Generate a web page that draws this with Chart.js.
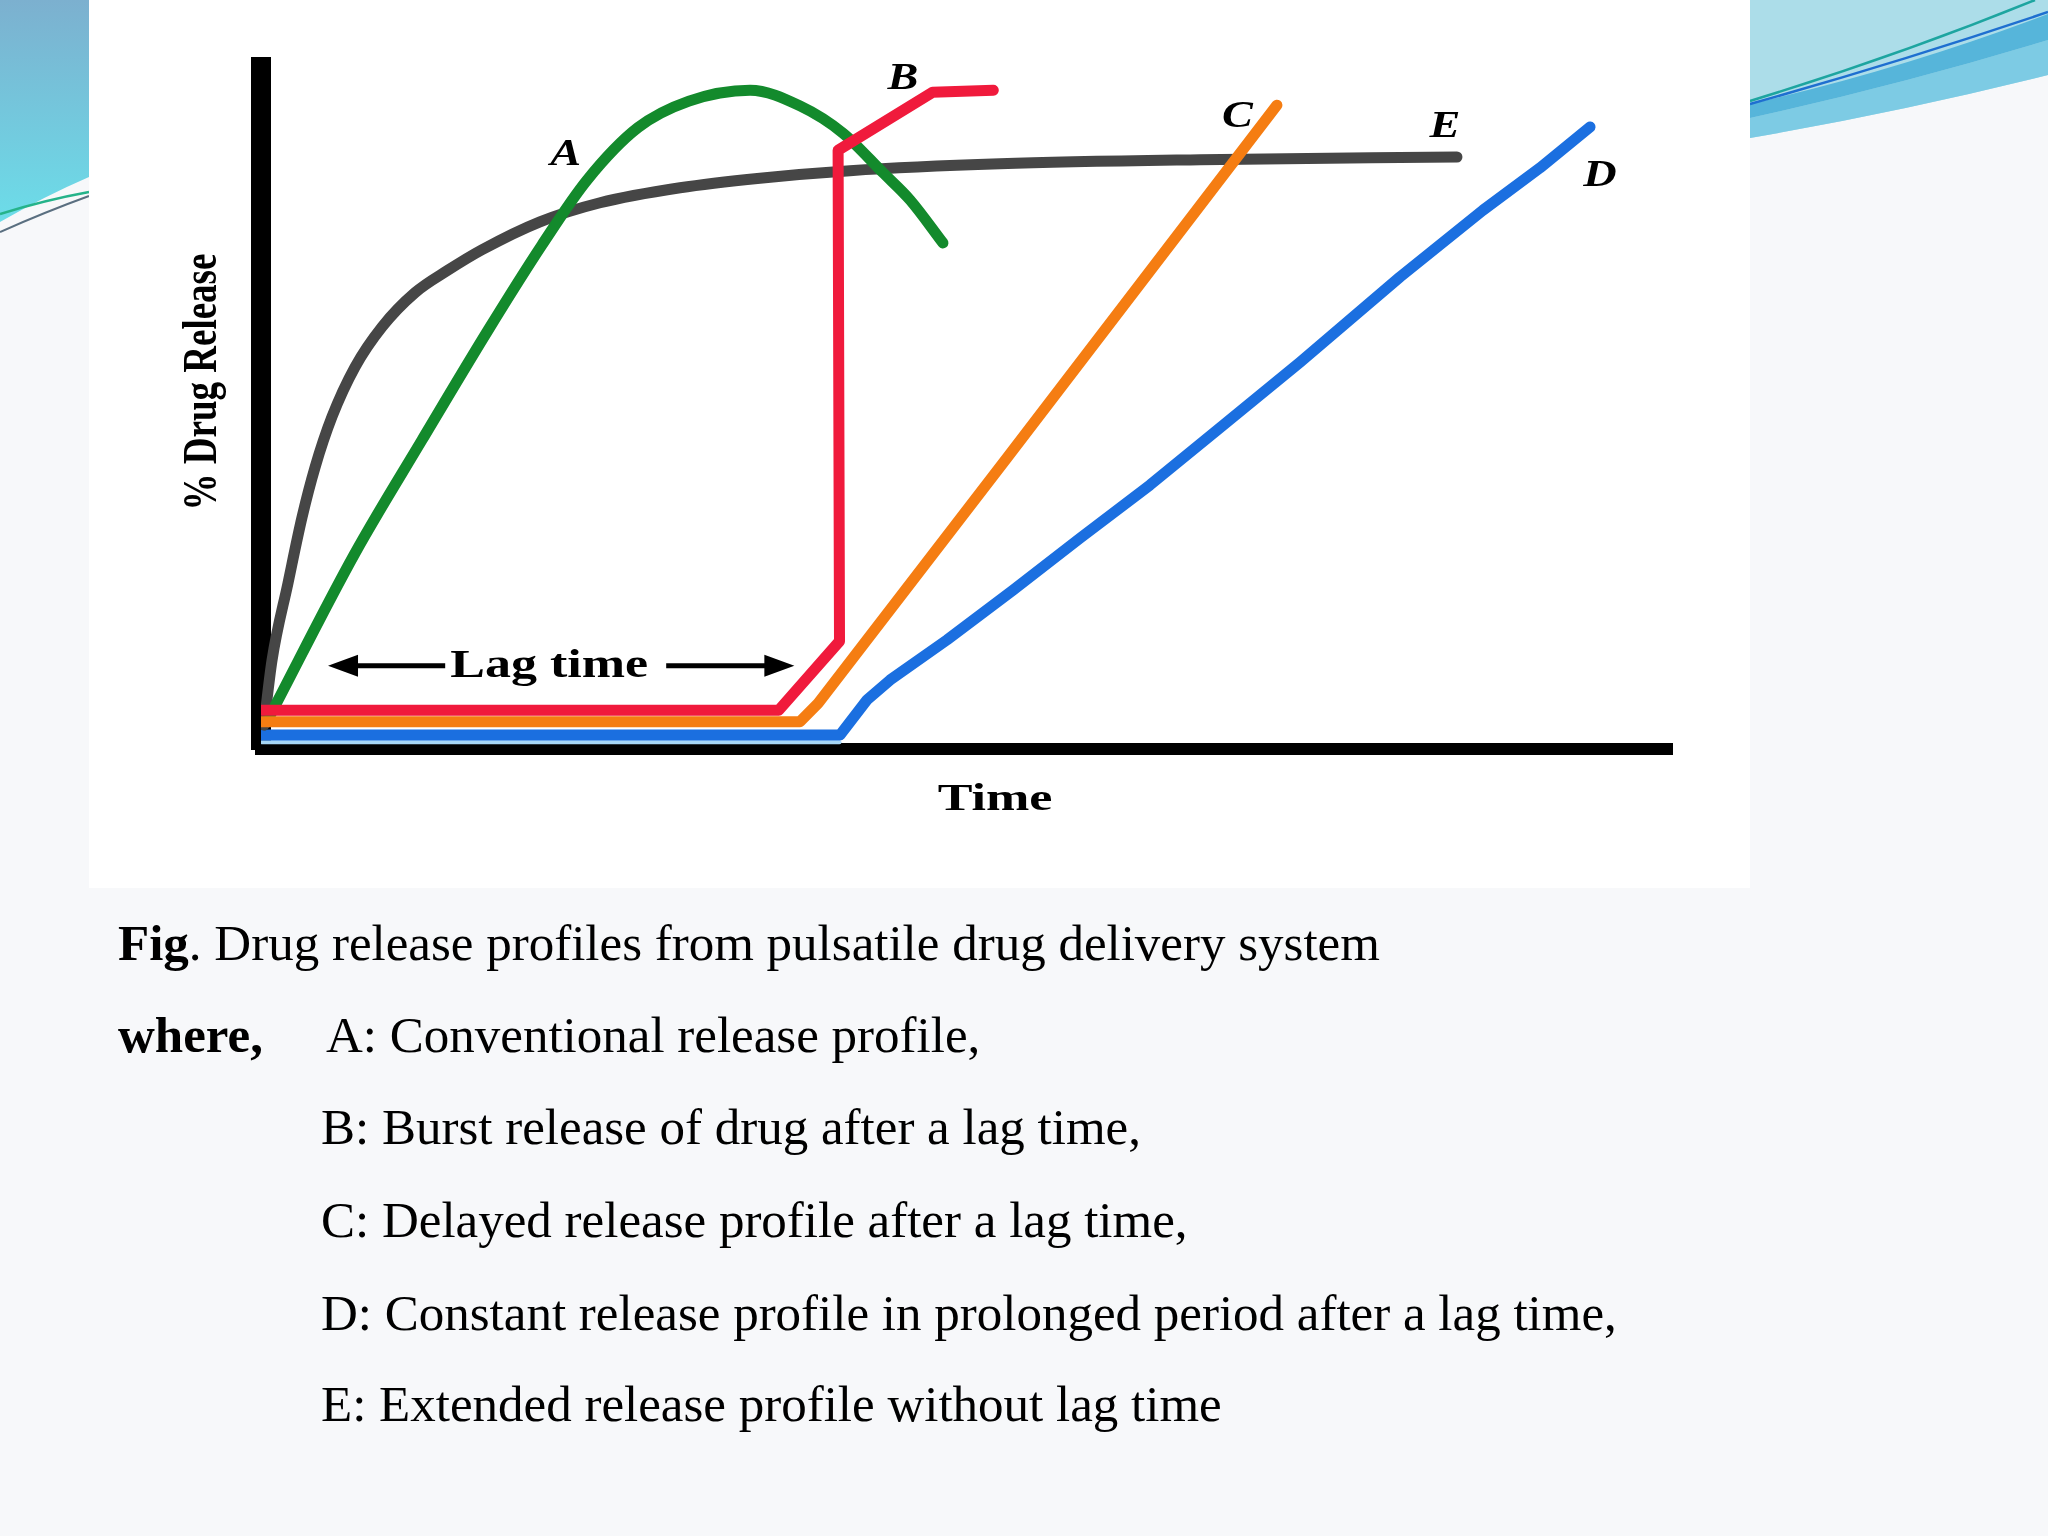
<!DOCTYPE html>
<html>
<head>
<meta charset="utf-8">
<script src="https://cdn.jsdelivr.net/npm/chart.js@4.4.0/dist/chart.umd.min.js"></script>
<style>
html,body{margin:0;padding:0;}
body{width:2048px;height:1536px;position:relative;overflow:hidden;background:#f7f8fa;font-family:'Liberation Serif','Times New Roman',serif;}
#deco{position:absolute;left:0;top:0;}
#panel{position:absolute;left:89px;top:0;width:1661px;height:888px;background:#ffffff;}
#wrap{position:absolute;left:0;top:0;width:2048px;height:1536px;}
.cap{position:absolute;font-size:51px;line-height:51px;color:#000;white-space:nowrap;}
</style>
</head>
<body>
<svg id="deco" width="2048" height="1536" viewBox="0 0 2048 1536">
  <defs>
    <linearGradient id="gl" x1="0" y1="0" x2="0" y2="1">
      <stop offset="0" stop-color="#7cb0cf"/>
      <stop offset="1" stop-color="#6cdde9"/>
    </linearGradient>
  </defs>
  <path d="M0,0 L89,0 L89,177 Q45,196 0,222 Z" fill="url(#gl)"/>
  <path d="M0,214 Q45,200 89,192" stroke="#25b38a" stroke-width="2.5" fill="none"/>
  <path d="M0,232 Q45,212 89,196" stroke="#5a6f80" stroke-width="2" fill="none"/>
  <path d="M1750,0 L2048,0 L2048,75 Q1900,112 1750,138 Z" fill="#acdde9"/>
  <path d="M1750,118 Q1900,85 2048,40 L2048,75 Q1900,112 1750,138 Z" fill="#7dcbe4"/>
  <path d="M1750,104 Q1900,70 2048,14 L2048,40 Q1900,85 1750,118 Z" fill="#56b5da"/>
  <path d="M1750,101 Q1900,55 2035,0" stroke="#1da5a0" stroke-width="2.5" fill="none"/>
  <path d="M1750,104 Q1900,62 2048,12" stroke="#1e6fd0" stroke-width="2.5" fill="none"/>
</svg>
<div id="panel"></div>
<div id="wrap"><canvas id="c" width="2048" height="1536"></canvas></div>

<div class="cap" style="left:118px;top:918px"><b>Fig</b>. Drug release profiles from pulsatile drug delivery system</div>
<div class="cap" style="left:118px;top:1010px"><b>where,</b></div>
<div class="cap" style="left:326px;top:1010px">A: Conventional release profile,</div>
<div class="cap" style="left:321px;top:1102px">B: Burst release of drug after a lag time,</div>
<div class="cap" style="left:321px;top:1195px">C: Delayed release profile after a lag time,</div>
<div class="cap" style="left:321px;top:1288px">D: Constant release profile in prolonged period after a lag time,</div>
<div class="cap" style="left:321px;top:1379px">E: Extended release profile without lag time</div>

<script>
// ---- data (time units 0-100, % drug release 0-100) ----
const seriesNames = ['A', 'B', 'C', 'D', 'E'];

const timeA = [0.64, 6.66, 11.41, 16.09, 19.91, 23.10, 26.71, 30.33, 34.66, 38.20, 41.25, 44.08, 46.0, 48.33];
const releaseA = [4.9, 28.7, 45.3, 61.4, 73.9, 83.4, 91.1, 95.0, 96.6, 94.3, 90.3, 84.5, 80.5, 74.2];

const timeB = [0.07, 36.7, 41.0, 40.9, 47.6, 51.9];
const releaseB = [5.7, 5.7, 15.8, 87.8, 96.3, 96.6];

const timeC = [0.07, 38.2, 39.48, 52.87, 72.0];
const releaseC = [4.0, 4.0, 6.7, 42.7, 94.4];

const timeD = [0.07, 41.03, 42.95, 44.58, 48.62, 53.30, 58.04, 63.0, 67.97, 73.64, 80.72, 86.6, 90.64, 94.19];
const releaseD = [2.05, 2.05, 7.2, 10.1, 16.0, 23.3, 30.9, 38.7, 47.1, 56.7, 69.2, 79.0, 85.2, 91.2];

const timeDshadow = [0.07, 41.0];
const releaseDshadow = [1.0, 1.0];

const timeE = [0.21, 0.78, 1.91, 2.91, 3.83, 5.03, 6.66, 8.58, 10.91, 13.25, 15.66, 19.77, 24.03, 29.70, 35.36, 41.74, 52.37, 66.55, 84.76];
const releaseE = [3.5, 13.0, 24.3, 34.0, 41.3, 48.7, 56.0, 61.9, 66.9, 70.2, 73.2, 77.3, 80.1, 82.3, 83.7, 84.8, 85.8, 86.4, 86.8];

// curve letter labels (data coordinates)
const labelTime = [21.6, 45.5, 69.2, 94.9, 83.9];
const labelRelease = [87.1, 98.2, 92.6, 84.0, 91.1];

// lag time annotation (data coordinates)
const lagLevel = 12.2;
const lagStart = 4.75;
const lagEnd = 37.8;

const pts = (xs, ys) => xs.map((x, i) => ({x: x, y: ys[i]}));

const annot = {
  id: 'annot',
  afterDraw(chart) {
    const ctx = chart.ctx;
    const xs = chart.scales.x, ys = chart.scales.y;
    const sText = (str, px, py, font, sx, rot, base) => {
      ctx.save();
      ctx.translate(px, py);
      if (rot) { ctx.rotate(-Math.PI / 2); ctx.scale(1, sx); }
      else { ctx.scale(sx, 1); }
      ctx.font = font;
      ctx.fillStyle = '#000';
      ctx.textAlign = 'center';
      ctx.textBaseline = base || 'alphabetic';
      ctx.fillText(str, 0, 0);
      ctx.restore();
    };
    // letters
    seriesNames.forEach((n, i) => {
      sText(n, xs.getPixelForValue(labelTime[i]), ys.getPixelForValue(labelRelease[i]),
        'italic bold 37px "Liberation Serif"', 1.25, false, 'middle');
    });
    // lag time arrows
    const yL = ys.getPixelForValue(lagLevel);
    const xL = xs.getPixelForValue(lagStart);
    const xR = xs.getPixelForValue(lagEnd);
    const xTextC = (xL + xR) / 2 - 12;
    ctx.save();
    ctx.strokeStyle = '#000';
    ctx.fillStyle = '#000';
    ctx.lineWidth = 5;
    ctx.beginPath();
    ctx.moveTo(xL + 20, yL); ctx.lineTo(xTextC - 104, yL);
    ctx.moveTo(xTextC + 117, yL); ctx.lineTo(xR - 20, yL);
    ctx.stroke();
    ctx.beginPath();
    ctx.moveTo(xL, yL); ctx.lineTo(xL + 30, yL - 11); ctx.lineTo(xL + 30, yL + 11); ctx.closePath();
    ctx.moveTo(xR, yL); ctx.lineTo(xR - 30, yL - 11); ctx.lineTo(xR - 30, yL + 11); ctx.closePath();
    ctx.fill();
    ctx.restore();
    sText('Lag time', xTextC, yL + 11, 'bold 40px "Liberation Serif"', 1.3, false, 'alphabetic');
    // axis titles
    const ca = chart.chartArea;
    sText('Time', 995, ca.bottom + 61, 'bold 38px "Liberation Serif"', 1.37, false, 'alphabetic');
    sText('% Drug Release', ca.left - 57, 382, 'bold 37px "Liberation Serif"', 1.3, true, 'middle');
  }
};

const lineStyle = {
  pointRadius: 0, borderWidth: 11, borderCapStyle: 'round', borderJoinStyle: 'round', fill: false
};

new Chart(document.getElementById('c').getContext('2d'), {
  type: 'line',
  data: {
    datasets: [
      Object.assign({label: 'C', data: pts(timeC, releaseC), borderColor: '#f57d12', tension: 0, order: 0}, lineStyle),
      Object.assign({label: 'B', data: pts(timeB, releaseB), borderColor: '#f01a3c', tension: 0, order: 1}, lineStyle),
      Object.assign({label: 'A', data: pts(timeA, releaseA), borderColor: '#138a2c', cubicInterpolationMode: 'monotone', order: 2}, lineStyle),
      Object.assign({label: 'E', data: pts(timeE, releaseE), borderColor: '#464646', cubicInterpolationMode: 'monotone', order: 3}, lineStyle),
      Object.assign({label: 'D', data: pts(timeD, releaseD), borderColor: '#1b6fe0', tension: 0, order: 4}, lineStyle),
      Object.assign({}, lineStyle, {label: 'D shadow', data: pts(timeDshadow, releaseDshadow), borderColor: '#a6d6f5', borderWidth: 4, tension: 0, order: 5})
    ]
  },
  options: {
    responsive: false,
    animation: false,
    devicePixelRatio: 1,
    layout: {padding: {left: 261, right: 2048 - 1672, top: 67, bottom: 1536 - 749}},
    scales: {
      x: {type: 'linear', min: 0, max: 100, z: 1,
          ticks: {display: false}, grid: {display: false, drawTicks: false},
          border: {display: true, color: '#000', width: 12}},
      y: {type: 'linear', min: 0, max: 100, z: 1,
          ticks: {display: false}, grid: {display: false, drawTicks: false},
          border: {display: true, color: '#000', width: 20}}
    },
    plugins: {legend: {display: false}, tooltip: {enabled: false}}
  },
  plugins: [annot]
});
</script>
</body>
</html>
